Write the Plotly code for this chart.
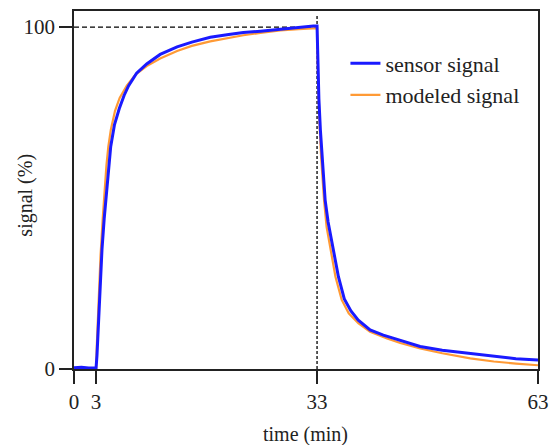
import plotly.graph_objects as go

# ---- data ----
sensor_t = [0, 1.0, 2.0, 2.9, 3.0, 3.12, 3.3, 3.55, 3.8, 4.1, 4.43, 4.7, 4.98, 5.5, 6.15,
            6.8, 7.4, 8.5, 9.87, 11.7, 14.0, 16.0, 18.5, 21.0, 23.0, 25.3, 27.5, 30.0,
            32.5, 33.0,
            33.1, 33.25, 33.45, 33.7, 33.9, 34.1, 34.5, 35.2, 35.9, 36.7, 37.6, 38.6,
            40.2, 42.0, 44.3, 47.0, 50.0, 53.8, 57.0, 60.0, 63.0]
sensor_v = [0.4, 0.5, 0.3, 0.5, 0.4, 4, 13, 25, 35, 44, 52.3, 59.5, 65, 71.5, 76.2,
            80.0, 82.8, 86.5, 89.2, 92.0, 94.2, 95.6, 97.0, 97.8, 98.4, 98.8, 99.3, 99.8,
            100.3, 100.3,
            89, 79, 70, 61, 54.5, 49.4, 43, 34.8, 27, 20.5, 17, 14.3,
            11.4, 9.9, 8.3, 6.6, 5.5, 4.5, 3.6, 3.0, 2.6]

model_t = [0, 3.0, 3.1, 3.3, 3.6, 3.9, 4.12, 4.4, 4.66, 5.0, 5.57, 6.2, 7.15, 8.3, 9.87,
           11.7, 14.0, 16.0, 18.5, 21.2, 23.0, 25.3, 28.0, 30.5, 33.0,
           33.08, 33.2, 33.35, 33.55, 33.75, 33.95, 34.3, 34.85, 35.5, 36.35, 37.3, 38.6,
           40.2, 42.5, 44.3, 47.0, 50.0, 53.8, 57.0, 60.0, 63.0]
model_v = [0, 0, 7, 20, 33, 44, 52.3, 59.5, 65, 70, 75.5, 79.3, 82.8, 86.0, 88.6,
           90.8, 93.0, 94.5, 95.8, 96.9, 97.6, 98.3, 99.0, 99.4, 99.7,
           90, 80, 71, 62, 55.5, 49.4, 41.5, 34.8, 27, 20.2, 16.3, 13.4,
           10.9, 8.9, 7.6, 6.0, 4.6, 3.1, 2.2, 1.6, 1.1]

x_ticks = [0, 3, 33, 63]
y_ticks = [0, 100]
x_range = [0, 63]
y_range = [0, 104.7]
step_off_time = 33
full_scale = 100
dashed_top = 103.6

FONT = "Liberation Serif, Times New Roman, serif"
INK = "#222222"

fig = go.Figure()
fig.add_trace(go.Scatter(
    x=model_t, y=model_v, mode="lines", name="modeled signal",
    line=dict(color="#ff9a35", width=2.2), legendrank=2))
fig.add_trace(go.Scatter(
    x=sensor_t, y=sensor_v, mode="lines", name="sensor signal",
    line=dict(color="#1a1aff", width=3), legendrank=1))

# reference dashed lines
fig.add_shape(type="line", xref="x", yref="y", x0=x_range[0], x1=step_off_time,
              y0=full_scale, y1=full_scale,
              line=dict(color="black", width=1.3, dash="5px,3px"), layer="below")
fig.add_shape(type="line", xref="x", yref="y", x0=step_off_time, x1=step_off_time,
              y0=y_range[0], y1=dashed_top,
              line=dict(color="black", width=1.3, dash="3px,2px"), layer="below")

axis_common = dict(
    showgrid=False, zeroline=False, showline=True, linecolor=INK, linewidth=1.5,
    mirror=True, ticks="outside", ticklen=13, tickwidth=1.5, tickcolor=INK,
    tickfont=dict(family=FONT, size=21, color=INK), automargin=False,
)
fig.update_xaxes(range=x_range, tickvals=x_ticks, **axis_common)
fig.update_yaxes(range=y_range, tickvals=y_ticks, **axis_common)

fig.add_annotation(text="time (min)", xref="paper", yref="paper", x=0.498, y=-0.184,
                   showarrow=False, font=dict(family=FONT, size=20, color=INK),
                   xanchor="center", yanchor="middle")
fig.add_annotation(text="signal (%)", xref="paper", yref="paper", x=-0.105, y=0.485,
                   showarrow=False, textangle=-90, font=dict(family=FONT, size=20, color=INK),
                   xanchor="center", yanchor="middle")

fig.update_layout(
    width=549, height=445,
    margin=dict(l=74, r=11, t=11, b=76),
    plot_bgcolor="white", paper_bgcolor="white",
    showlegend=True,
    legend=dict(x=0.585, y=0.912, xanchor="left", yanchor="top",
                font=dict(family=FONT, size=22, color=INK),
                bgcolor="rgba(0,0,0,0)", tracegroupgap=0),
)

fig.write_html("out.html", config={"displayModeBar": False},
               post_script="document.body.style.margin='0';document.body.style.overflow='hidden';")
